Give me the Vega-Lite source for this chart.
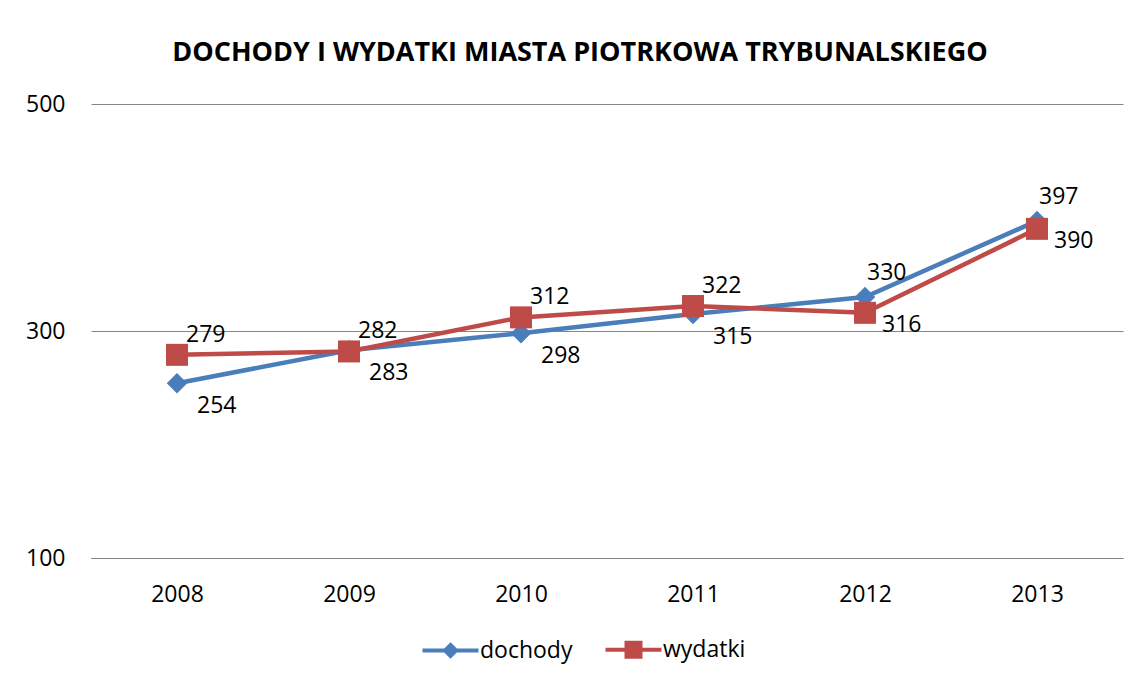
{
  "$schema": "https://vega.github.io/schema/vega-lite/v6.json",
  "autosize": {"type": "none"},
  "padding": {"left": 91, "top": 104, "right": 18, "bottom": 123},
  "width": 1032,
  "height": 454,
  "background": "white",
  "config": {
    "font": "Open Sans",
    "view": {"stroke": null},
    "axis": {"labelFont": "Open Sans", "labelFontSize": 23, "labelColor": "#000000", "title": null}
  },
  "title": {
    "text": "DOCHODY I WYDATKI MIASTA PIOTRKOWA TRYBUNALSKIEGO",
    "font": "Open Sans",
    "fontSize": 27,
    "fontWeight": "bold",
    "color": "#000000",
    "anchor": "middle",
    "dx": -27,
    "offset": 26
  },
  "data": {
    "values": [
      {"year": "2008", "series": "dochody", "value": 254},
      {"year": "2009", "series": "dochody", "value": 283},
      {"year": "2010", "series": "dochody", "value": 298},
      {"year": "2011", "series": "dochody", "value": 315},
      {"year": "2012", "series": "dochody", "value": 330},
      {"year": "2013", "series": "dochody", "value": 397},
      {"year": "2008", "series": "wydatki", "value": 279},
      {"year": "2009", "series": "wydatki", "value": 282},
      {"year": "2010", "series": "wydatki", "value": 312},
      {"year": "2011", "series": "wydatki", "value": 322},
      {"year": "2012", "series": "wydatki", "value": 316},
      {"year": "2013", "series": "wydatki", "value": 390}
    ]
  },
  "encoding": {
    "x": {
      "field": "year", "type": "ordinal",
      "scale": {"type": "point", "padding": 0.5},
      "axis": {"labelAngle": 0, "ticks": false, "domainColor": "#868686", "domainWidth": 1, "labelPadding": 25, "grid": false}
    },
    "y": {
      "field": "value", "type": "quantitative",
      "scale": {"domain": [100, 500], "nice": false, "zero": false},
      "axis": {"values": [100, 300, 500], "domain": false, "ticks": false, "labelPadding": 26, "grid": true, "gridColor": "#868686", "gridWidth": 1, "gridOpacity": 1}
    }
  },
  "layer": [
    {
      "transform": [{"filter": "datum.series == 'dochody'"}],
      "mark": {"type": "line", "color": "#4A7EBB", "strokeWidth": 4.5}
    },
    {
      "transform": [{"filter": "datum.series == 'dochody'"}],
      "mark": {"type": "point", "shape": "diamond", "filled": true, "opacity": 1, "color": "#4A7EBB", "size": 420}
    },
    {
      "transform": [{"filter": "datum.series == 'wydatki'"}],
      "mark": {"type": "line", "color": "#BE4B48", "strokeWidth": 4.5}
    },
    {
      "transform": [{"filter": "datum.series == 'wydatki'"}],
      "mark": {"type": "point", "shape": "square", "filled": true, "opacity": 1, "color": "#BE4B48", "size": 484}
    },
    {
      "transform": [{"filter": "datum.series == 'dochody' && datum.year != '2012' && datum.year != '2013'"}],
      "mark": {"type": "text", "align": "left", "baseline": "middle", "dx": 20, "dy": 23, "fontSize": 23, "color": "#000000"},
      "encoding": {"text": {"field": "value", "type": "quantitative"}}
    },
    {
      "transform": [{"filter": "datum.series == 'dochody' && (datum.year == '2012' || datum.year == '2013')"}],
      "mark": {"type": "text", "align": "left", "baseline": "middle", "dx": 2, "dy": -24, "fontSize": 23, "color": "#000000"},
      "encoding": {"text": {"field": "value", "type": "quantitative"}}
    },
    {
      "transform": [{"filter": "datum.series == 'wydatki' && datum.year != '2012' && datum.year != '2013'"}],
      "mark": {"type": "text", "align": "left", "baseline": "middle", "dx": 9, "dy": -20, "fontSize": 23, "color": "#000000"},
      "encoding": {"text": {"field": "value", "type": "quantitative"}}
    },
    {
      "transform": [{"filter": "datum.series == 'wydatki' && (datum.year == '2012' || datum.year == '2013')"}],
      "mark": {"type": "text", "align": "left", "baseline": "middle", "dx": 17, "dy": 12, "fontSize": 23, "color": "#000000"},
      "encoding": {"text": {"field": "value", "type": "quantitative"}}
    },
    {
      "mark": {"type": "point", "filled": true, "opacity": 0},
      "encoding": {
        "color": {
          "field": "series", "type": "nominal",
          "scale": {"domain": ["dochody", "wydatki"], "range": ["#4A7EBB", "#BE4B48"]},
          "legend": {
            "orient": "none", "legendX": 325, "legendY": 534, "direction": "horizontal",
            "title": null, "labelFont": "Open Sans", "labelFontSize": 23, "labelColor": "#000000",
            "symbolSize": 100, "labelOffset": 41, "columnPadding": 24, "symbolOpacity": 1,
            "encode": {"symbols": {"update": {"stroke": {"scale": "color", "field": "value"}, "fill": {"scale": "color", "field": "value"}, "strokeWidth": {"value": 4}, "opacity": {"value": 1}}}}
          }
        },
        "shape": {
          "field": "series", "type": "nominal",
          "scale": {"domain": ["dochody", "wydatki"], "range": ["M-1,0H10.2M4.6,-1.1L5.7,0L4.6,1.1L3.5,0Z", "M-1,0H10.2M3.2,-1.4H6V1.4H3.2Z"]}
        }
      }
    }
  ]
}
